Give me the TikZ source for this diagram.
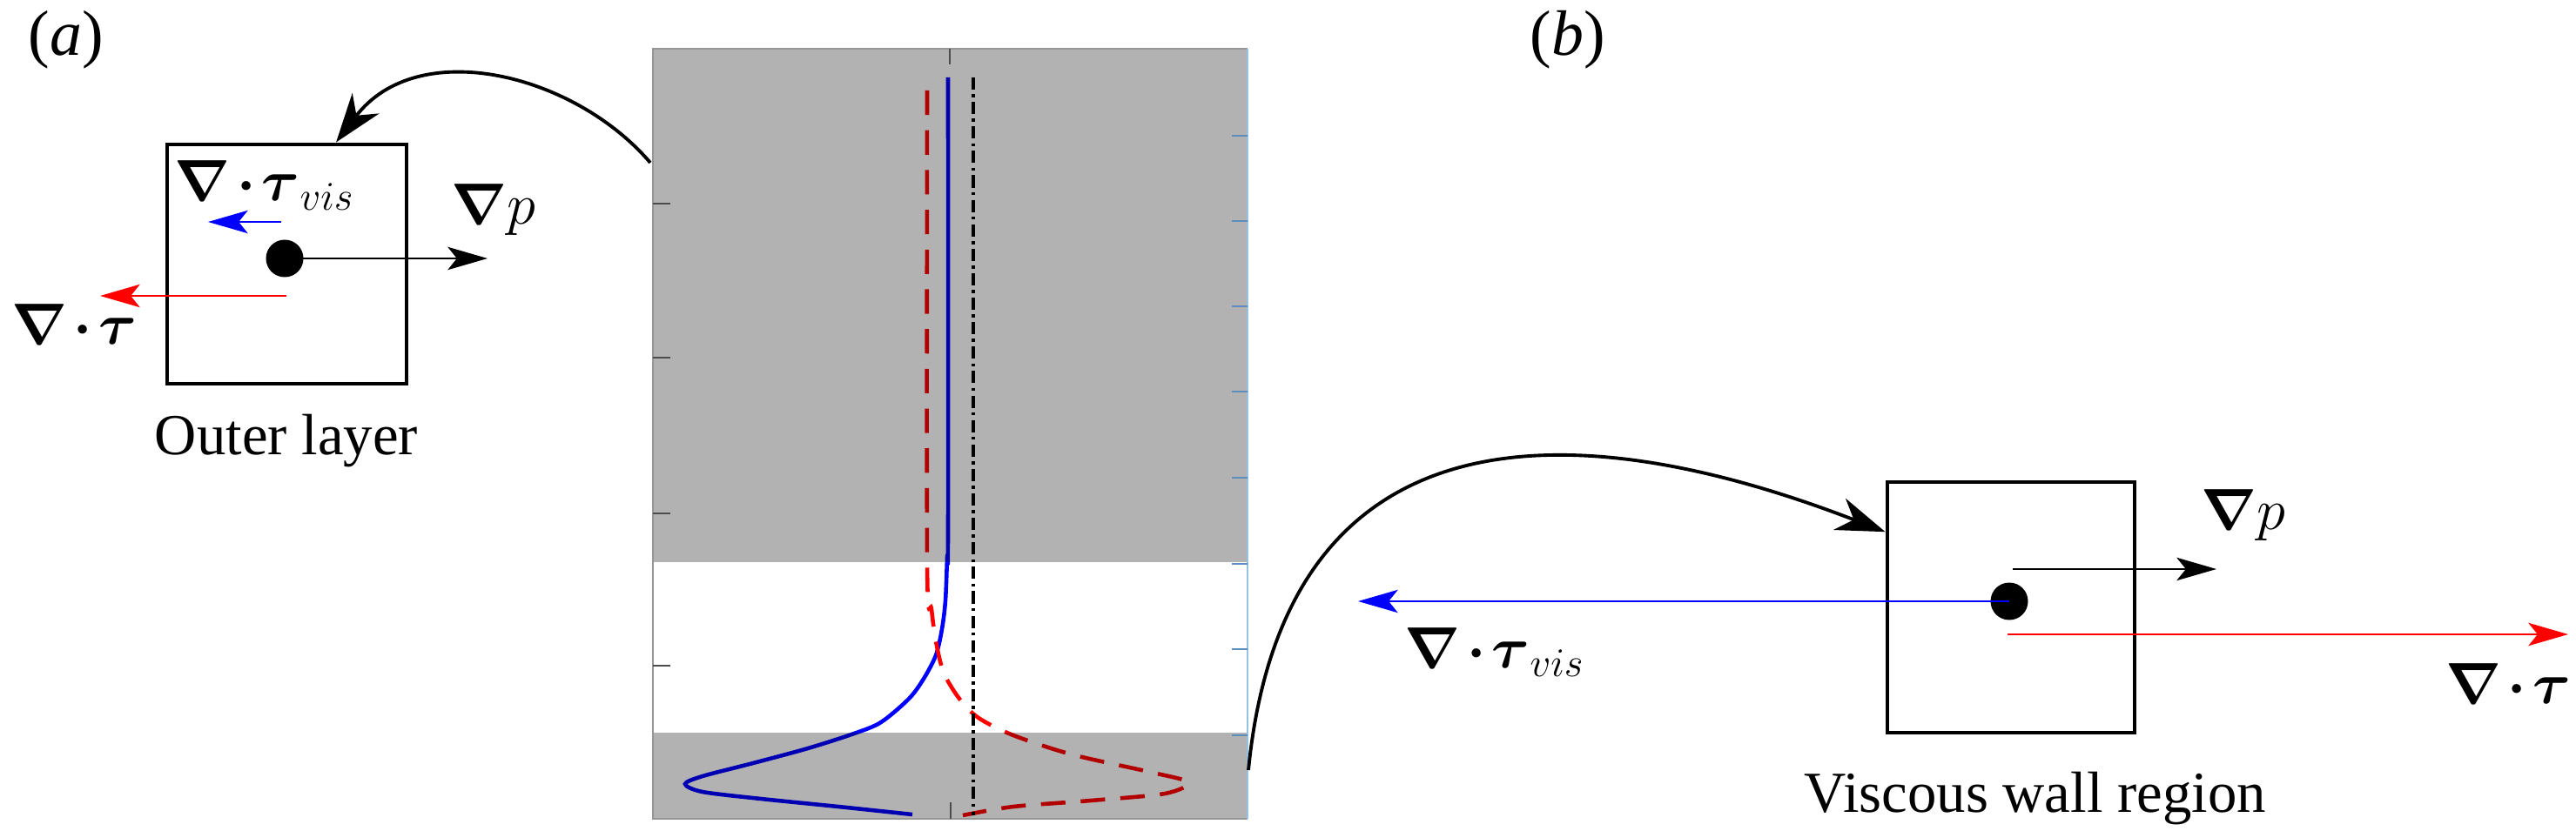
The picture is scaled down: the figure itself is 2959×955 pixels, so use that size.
\RequirePackage{fix-cm}
\documentclass[tikz,border=0pt]{standalone}
\usepackage{amsmath}
\usepackage{fontspec}
\setmainfont{Liberation Serif}
\usetikzlibrary{arrows.meta}

\definecolor{framegray}{RGB}{150,150,150}
\definecolor{frameblue}{RGB}{150,192,228}
\definecolor{tickblue}{RGB}{95,140,190}

\newcommand{\gradop}{\boldsymbol{\nabla}}
\newcommand{\divdot}{\mkern-2mu\boldsymbol{\cdot}\mkern-2mu}

\tikzset{
  forcebox/.style={draw, line width=1.4pt, inner sep=0pt},
  particle/.style={circle, fill=black, minimum size=4.3mm, inner sep=0pt},
  force/.style={line width=0.6pt, ->, >={Stealth[length=13pt,width=7.5pt,inset=3pt]}},
  link/.style={line width=1.1pt, ->, >={Stealth[length=16pt,width=11pt,inset=5pt]}},
  lbl/.style={inner sep=0pt, anchor=base},
  panel/.style={font=\fontsize{21}{25}\selectfont},
}

\begin{document}
\begin{tikzpicture}[x=0.1mm, y=-0.1mm, font=\fontsize{19}{23}\selectfont]
\useasboundingbox (0,0) rectangle (2959,955);

% profile plot
\draw[blue, line width=1.3pt] plot[smooth, tension=0.5] coordinates {(1089,89) (1089,606) (1088,640) (1086,690) (1082,723) (1075,753) (1061,780) (1044,803) (1012,830) (981,843) (928,860) (865,877) (807,892) (787,901) (807,910) (874,918) (963,927) (1048,936)};
\draw[red, line width=1.3pt, dash pattern=on 8pt off 5pt] plot[smooth, tension=0.5] coordinates {(1065,104) (1065,647) (1070,700) (1075,737) (1084,773) (1102,803) (1124,825) (1164,845) (1231,867) (1320,887) (1365,899) (1338,912) (1253,920) (1164,927) (1106,937)};
\draw[black, line width=1.3pt, dash pattern=on 4pt off 1.5pt on 1pt off 1.5pt] (1118,89) -- (1118,937);
\fill[black, opacity=0.3] (750,56) rectangle (1433,646);
\fill[black, opacity=0.3] (750,842) rectangle (1433,941);
\draw[framegray, line width=0.7pt] (1433,941) -- (750,941) -- (750,56) -- (1433,56);
\draw[frameblue, line width=0.7pt] (1433,56) -- (1433,941);
\foreach \y in {234,411,590,765} {
 \draw[black!70] (750,\y) --++(20,0);
}
\foreach \y in {156,254,352,450,549,648,746,845} {
 \draw[tickblue] (1433,\y) --++(-18,0);
}
\draw[black!70] (1091,56) --++(0,18);
\draw[black!70] (1092,941) --++(0,-19);
\coordinate (plotL) at (747,187);
\coordinate (plotR) at (1434,885);

% (a) outer layer
\node[panel] (tagA) at (76,46) {(\textit{a})};
\node[forcebox, minimum width=27.5mm, minimum height=27.5mm] (boxA) at (329.5,303.5) {};
\node[particle] (dotA) at (327,297) {};
\coordinate (pA) at (560,297);
\coordinate (visAs) at (323,255);
\coordinate (visA) at (239,255);
\coordinate (tauAs) at (329,340);
\coordinate (tauA) at (115,340);
\draw[force, black] (dotA.center) -- (pA);
\draw[force, blue] (visAs) -- (visA);
\draw[force, red] (tauAs) -- (tauA);
\node[lbl] (visAlab) at (304,231) {$\gradop\divdot\boldsymbol{\tau}_{vis}$};
\node[lbl] (pAlab) at (567,258) {$\gradop p$};
\node[lbl] (tauAlab) at (85,396) {$\gradop\divdot\boldsymbol{\tau}$};
\node[lbl] (outer) at (329,522) {Outer layer};
\draw[link] (plotL) .. controls (660,85) and (480,40) .. (boxA.68);

% (b) viscous wall region
\node[panel] (tagB) at (1801,46) {(\textit{b})};
\node[forcebox, minimum width=28.4mm, minimum height=28.8mm] (boxB) at (2310,698) {};
\node[particle] (dotB) at (2308,691) {};
\coordinate (pBs) at (2312,654);
\coordinate (pB) at (2546,654);
\coordinate (visB) at (1560,691);
\coordinate (tauBs) at (2306,729);
\coordinate (tauB) at (2950,729);
\draw[force, black] (pBs) -- (pB);
\draw[force, blue] (dotB.center) -- (visB);
\draw[force, red] (tauBs) -- (tauB);
\node[lbl] (pBlab) at (2577,608) {$\gradop p$};
\node[lbl] (visBlab) at (1717,767) {$\gradop\divdot\boldsymbol{\tau}_{vis}$};
\node[lbl] (tauBlab) at (2881,808) {$\gradop\divdot\boldsymbol{\tau}$};
\node[lbl] (viscous) at (2338,933) {Viscous wall region};
\draw[link] (plotR) .. controls (1475,470) and (1800,470) .. (boxB.149);
\end{tikzpicture}
\end{document}
